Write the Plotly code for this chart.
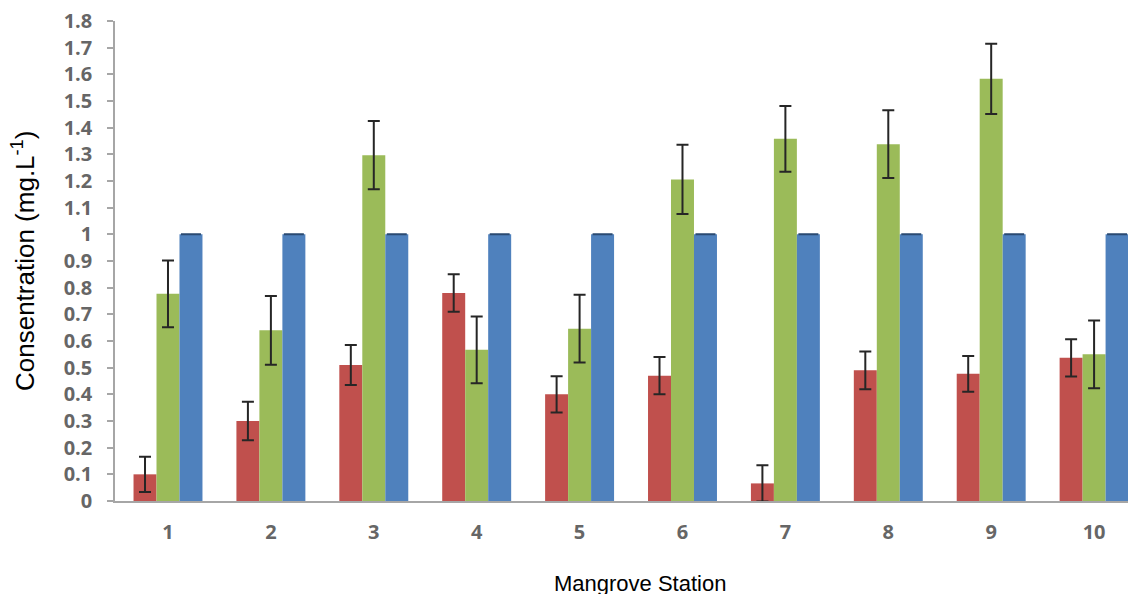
import plotly.graph_objects as go

stations = ["1", "2", "3", "4", "5", "6", "7", "8", "9", "10"]
red_vals = [0.10, 0.30, 0.51, 0.78, 0.40, 0.47, 0.066, 0.49, 0.477, 0.537]
red_err = [0.066, 0.072, 0.075, 0.07, 0.068, 0.07, 0.068, 0.071, 0.067, 0.07]
green_vals = [0.777, 0.64, 1.297, 0.567, 0.646, 1.206, 1.358, 1.338, 1.583, 0.55]
green_err = [0.125, 0.129, 0.128, 0.125, 0.127, 0.13, 0.123, 0.127, 0.132, 0.127]
blue_vals = [1.0] * 10
blue_err = [0.0] * 10
y_ticks = [0, 0.1, 0.2, 0.3, 0.4, 0.5, 0.6, 0.7, 0.8, 0.9, 1, 1.1, 1.2, 1.3, 1.4, 1.5, 1.6, 1.7, 1.8]
y_ticktext = ["0", "0.1", "0.2", "0.3", "0.4", "0.5", "0.6", "0.7", "0.8", "0.9", "1",
              "1.1", "1.2", "1.3", "1.4", "1.5", "1.6", "1.7", "1.8"]
x_title = "Mangrove Station"
y_title = "Consentration (mg.L<sup>-1</sup>)"

W, H = 1136, 594
L, R, T, B = 107, 0, 13, 101
PW, PH = W - L - R, H - T - B

ERR_COLOR = "#262626"
TICK_FONT = dict(family="Open Sans", size=20, color="#666666", weight="bold")
TITLE_FONT = "Liberation Sans, Arial"

fig = go.Figure()
fig.add_trace(go.Bar(
    x=stations, y=red_vals, marker=dict(color="#C0504D", line=dict(width=0)),
    error_y=dict(type="data", array=red_err, visible=True, color=ERR_COLOR, thickness=2, width=6),
    name="A"))
fig.add_trace(go.Bar(
    x=stations, y=green_vals, marker=dict(color="#9BBB59", line=dict(width=0)),
    error_y=dict(type="data", array=green_err, visible=True, color=ERR_COLOR, thickness=2, width=6),
    name="B"))
fig.add_trace(go.Bar(
    x=stations, y=blue_vals, marker=dict(color="#4F81BD", line=dict(width=0)),
    error_y=dict(type="data", array=blue_err, visible=True, color="#2a4a72", thickness=2, width=10),
    name="C"))

fig.update_layout(
    width=W, height=H,
    margin=dict(l=L, r=R, t=T, b=B, autoexpand=False),
    paper_bgcolor="white", plot_bgcolor="white",
    barmode="group", bargap=0.33, bargroupgap=0,
    showlegend=False,
    font=dict(family=TITLE_FONT, size=15, color="black"),
    xaxis=dict(
        range=[-0.515, 9.485], automargin=False,
        showline=True, linecolor="#a6a6a6", linewidth=1.5,
        ticks="", showgrid=False,
        tickfont=TICK_FONT,
        ticklabelstandoff=12,
        ticklabeloverflow="allow",
    ),
    yaxis=dict(
        range=[0, 1.8], tickvals=y_ticks, ticktext=y_ticktext, automargin=False,
        showline=True, linecolor="#a6a6a6", linewidth=1.5,
        ticks="outside", ticklen=6, tickcolor="#a6a6a6", tickwidth=1.5,
        showgrid=False, zeroline=False,
        tickfont=TICK_FONT,
        ticklabelstandoff=11,
        ticklabeloverflow="allow",
    ),
    annotations=[
        dict(text=x_title, xref="paper", yref="paper",
             x=(632 - L) / PW, y=(H - B - 575) / PH,
             xanchor="center", yanchor="middle", showarrow=False,
             font=dict(family=TITLE_FONT, size=22, color="black")),
        dict(text=y_title, xref="paper", yref="paper", textangle=-90,
             x=(15 - L) / PW, y=(H - B - 253) / PH,
             xanchor="center", yanchor="middle", showarrow=False,
             font=dict(family=TITLE_FONT, size=26, color="black")),
    ],
)

fig.write_html("out.html")
